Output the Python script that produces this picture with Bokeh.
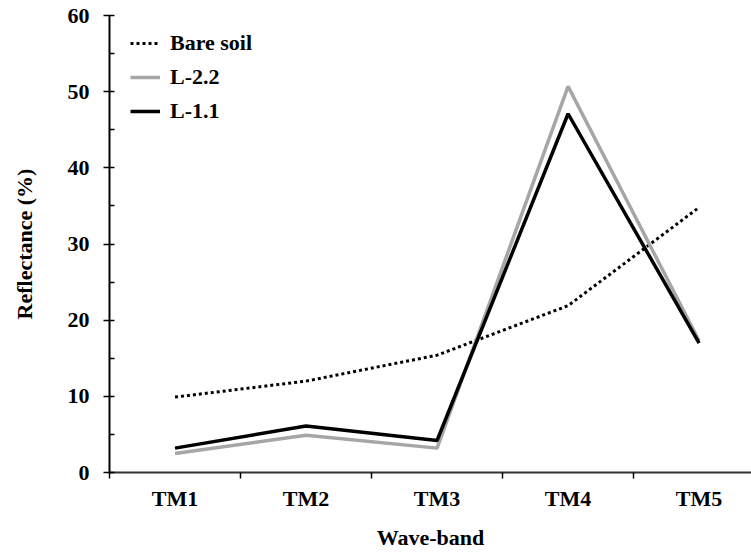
from bokeh.plotting import figure
from bokeh.models import FixedTicker, Legend, LegendItem
from bokeh.embed import file_html
from bokeh.resources import INLINE

categories = ["TM1", "TM2", "TM3", "TM4", "TM5"]
bare_soil = [9.9, 12.0, 15.4, 21.9, 34.8]
l_2_2 = [2.5, 4.9, 3.2, 50.7, 17.3]
l_1_1 = [3.2, 6.1, 4.2, 47.1, 17.0]
y_ticks = [0, 10, 20, 30, 40, 50, 60]
y_minor = [5, 15, 25, 35, 45, 55]

xs = list(range(1, len(categories) + 1))
boundaries = [i - 0.5 for i in xs]

FONT = "Liberation Serif"
FS = "22px"

p = figure(width=751, height=552, output_backend="svg", toolbar_location=None,
           x_range=(0.5, 5.4), y_range=(0, 60),
           min_border_left=109, min_border_top=15, min_border_right=0,
           min_border_bottom=80)
p.outline_line_color = None
p.background_fill_color = "white"
p.border_fill_color = "white"

r_bare = p.line(xs, bare_soil, line_color="black", line_width=3, line_dash="3 3")
r_l22 = p.line(xs, l_2_2, line_color="#a6a6a6", line_width=3.5)
r_l11 = p.line(xs, l_1_1, line_color="black", line_width=3.5)

# x axis
p.xaxis.ticker = FixedTicker(ticks=xs, minor_ticks=boundaries)
p.xaxis.major_label_overrides = {x: c for x, c in zip(xs, categories)}
p.xaxis.major_tick_out = 0
p.xaxis.major_tick_in = 0
p.xaxis.minor_tick_out = 6
p.xaxis.minor_tick_in = 0
p.xaxis.minor_tick_line_color = "black"
p.xaxis.minor_tick_line_width = 1.5
p.xaxis.axis_line_color = "#333333"
p.xaxis.axis_line_width = 2
p.xaxis.major_label_standoff = 7
p.xaxis.axis_label = "Wave-band"
p.xaxis.axis_label_standoff = 11

# y axis
p.yaxis.ticker = FixedTicker(ticks=y_ticks, minor_ticks=y_minor)
p.yaxis.major_tick_out = 6
p.yaxis.major_tick_in = 5
p.yaxis.minor_tick_out = 0
p.yaxis.minor_tick_in = 5
p.yaxis.major_tick_line_color = "black"
p.yaxis.minor_tick_line_color = "black"
p.yaxis.major_tick_line_width = 1.5
p.yaxis.minor_tick_line_width = 1.5
p.yaxis.axis_line_color = "black"
p.yaxis.axis_line_width = 2
p.yaxis.major_label_standoff = 14
p.yaxis.axis_label = "Reflectance (%)"
p.yaxis.axis_label_standoff = 28

for ax in [p.xaxis, p.yaxis]:
    ax.major_label_text_font = FONT
    ax.major_label_text_font_style = "bold"
    ax.major_label_text_font_size = FS
    ax.major_label_text_color = "black"
    ax.axis_label_text_font = FONT
    ax.axis_label_text_font_style = "bold"
    ax.axis_label_text_font_size = FS
    ax.axis_label_text_color = "black"

# grid: only the top line at 60
p.xgrid.visible = False
p.ygrid.ticker = FixedTicker(ticks=[60])
p.ygrid.grid_line_color = "#555555"
p.ygrid.grid_line_width = 2

legend = Legend(items=[
    LegendItem(label="Bare soil", renderers=[r_bare]),
    LegendItem(label="L-2.2", renderers=[r_l22]),
    LegendItem(label="L-1.1", renderers=[r_l11]),
], location=(21, 348))
legend.margin = 0
legend.padding = 0
legend.spacing = 8
legend.glyph_width = 30
legend.glyph_height = 24
legend.label_height = 24
legend.label_standoff = 10
legend.label_text_font = FONT
legend.label_text_font_style = "bold"
legend.label_text_font_size = FS
legend.label_text_color = "black"
legend.background_fill_alpha = 0
legend.border_line_color = None
p.add_layout(legend, "center")

open("out.html", "w").write(file_html(p, INLINE))
